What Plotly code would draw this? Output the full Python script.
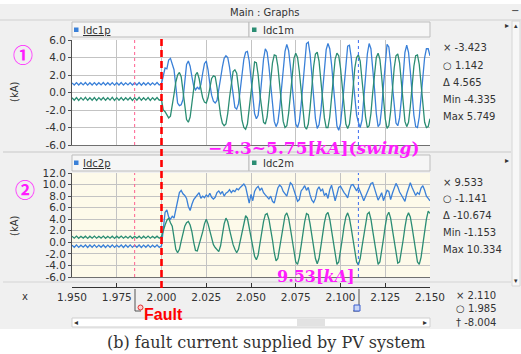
import numpy as np
import plotly.graph_objects as go

W, H = 521, 354

# ---------------- data ----------------
x_ticks = [1.950, 1.975, 2.000, 2.025, 2.050, 2.075, 2.100, 2.125, 2.150]
y1_ticks = [6.0, 4.0, 2.0, 0.0, -2.0, -4.0, -6.0]
y2_ticks = [12.0, 10.0, 8.0, 6.0, 4.0, 2.0, 0.0, -2.0, -4.0, -6.0]
fault_time = 2.000
cursor_o_time = 1.985
cursor_x_time = 2.110
pre_step = 0.00125   # sampling of the pre-fault ripple
post_step = 0.001    # sampling after the fault

idc1p_pre = [1.10, 0.86, 1.13, 0.85, 1.12, 0.87, 1.14, 0.84, 1.11, 0.86,
             1.13, 0.85, 1.12, 0.87, 1.14, 0.85, 1.11, 0.86, 1.13, 0.84,
             1.12, 0.86, 1.14, 0.85, 1.11, 0.87, 1.13, 0.85, 1.12, 0.86,
             1.14, 0.84, 1.12, 0.86, 1.13, 0.85, 1.11, 0.87, 1.14, 0.86]
idc1p_post = [1.0, 1.8, 2.8, 2.7, 3.7, 3.9, 3.1, 2.6, 0.7, -1.2,
              -1.5, -1.4, -0.8, 1.2, 3.2, 3.6, 3.0, 1.8, 0.7, 0.3,
              0.6, 0.4, 0.9, 2.2, 3.3, 3.6, 2.6, 1.0, -0.3, -1.0,
              -1.2, -0.9, 0.2, 1.6, 2.9, 3.9, 4.2, 4.0, 2.9, 1.2,
              -0.6, -1.7, -1.9, -1.3, 0.3, 2.2, 3.8, 4.6, 4.7, 3.6,
              1.8, -0.6, -2.4, -3.0, -2.6, -0.8, 1.6, 3.8, 5.0, 4.6,
              3.0, 0.8, -1.6, -3.3, -3.9, -3.4, -1.8, 0.5, 2.8, 4.7,
              5.5, 4.8, 3.0, 0.6, -2.0, -3.6, -4.0, -3.3, -1.4, 1.2,
              3.8, 5.6, 5.75, 4.4, 2.0, -0.6, -3.0, -4.1, -3.7, -2.2,
              0.2, 2.8, 4.9, 5.6, 5.0, 3.2, 0.8, -1.8, -3.8, -4.33,
              -3.6, -1.6, 1.0, 3.6, 5.3, 5.4, 4.0, 1.6, -0.8, -2.6,
              -3.42, -4.0, -3.2, -1.0, 1.8, 4.4, 5.6, 5.0, 3.0, 0.4,
              -2.4, -3.9, -3.6, -1.8, 0.8, 3.6, 5.5, 5.2, 3.4, 0.8,
              -1.8, -3.5, -3.8, -2.9, -0.8, 2.0, 4.6, 5.4, 4.6, 2.4,
              -0.2, -2.6, -3.9, -4.0, -2.8, -0.6, 2.0, 4.0, 5.0, 5.0, 4.2]

idc1m_pre = [-0.60, -0.88, -0.57, -0.90, -0.59, -0.87, -0.56, -0.89, -0.60, -0.88,
             -0.58, -0.90, -0.59, -0.86, -0.57, -0.89, -0.60, -0.87, -0.56, -0.90,
             -0.59, -0.88, -0.57, -0.89, -0.60, -0.86, -0.58, -0.90, -0.59, -0.88,
             -0.56, -0.89, -0.60, -0.87, -0.58, -0.90, -0.59, -0.86, -0.57, -0.88]
idc1m_post = [-0.8, -2.0, -2.2, -2.6, -2.9, -2.7, -1.6, -0.2, 1.2, 2.0,
              2.3, 1.8, 0.2, -1.8, -3.1, -3.4, -2.8, -1.2, 0.8, 2.0,
              2.3, 1.6, 0.4, -0.6, -1.1, -1.2, -0.6, 0.6, 1.6, 1.9,
              1.8, 0.6, -1.2, -2.6, -3.5, -3.8, -3.6, -2.4, -0.6, 1.2,
              2.4, 2.6, 2.2, 0.6, -1.6, -3.2, -4.0, -4.2, -3.6, -1.8,
              0.4, 2.4, 3.5, 3.4, 2.0, -0.2, -2.2, -3.4, -3.6, -2.8,
              -0.8, 1.6, 3.4, 4.3, 4.2, 3.0, 0.8, -1.6, -3.3, -4.0,
              -3.8, -2.4, -0.2, 2.2, 3.9, 4.5, 4.0, 2.4, 0.0, -2.4,
              -3.9, -4.2, -3.6, -1.8, 0.8, 3.0, 4.4, 4.6, 3.6, 1.6,
              -0.8, -2.9, -4.0, -4.0, -2.8, -0.6, 1.8, 3.8, 4.5, 4.2,
              2.8, 0.4, -2.0, -3.6, -4.1, -3.6, -1.8, 0.6, 2.8, 4.0,
              4.3, 3.6, 1.8, -0.6, -2.8, -4.0, -3.8, -2.4, 0.0, 2.4,
              4.0, 4.5, 3.8, 1.8, -0.8, -3.0, -4.1, -3.8, -2.2, 0.4,
              2.8, 4.2, 4.4, 3.4, 1.2, -1.4, -3.3, -3.9, -3.4, -1.6,
              0.8, 3.0, 4.2, 4.3, 3.2, 1.0, -1.6, -3.4, -4.0, -3.9, -3.0]

idc2p_pre = [-0.48, -0.86, -0.45, -0.88, -0.50, -0.84, -0.46, -0.90, -0.47, -0.86,
             -0.44, -0.87, -0.49, -0.85, -0.46, -0.89, -0.48, -0.86, -0.45, -0.88,
             -0.50, -0.84, -0.46, -0.90, -0.47, -0.86, -0.44, -0.87, -0.49, -0.85,
             -0.46, -0.89, -0.48, -0.86, -0.45, -0.88, -0.50, -0.84, -0.46, -0.87]
idc2p_post = [-0.6, 2.7, 5.2, 5.6, 4.4, 4.0, 4.5, 4.2, 5.5, 7.2,
              8.6, 9.0, 8.4, 8.1, 7.6, 6.2, 5.5, 6.6, 7.4, 7.8,
              8.3, 8.6, 7.6, 8.0, 7.7, 8.2, 7.9, 8.5, 7.8, 7.5,
              7.8, 8.6, 8.9, 8.4, 8.8, 8.0, 8.5, 8.7, 9.1, 8.6,
              9.0, 8.8, 9.3, 9.1, 9.5, 9.8, 10.1, 9.6, 8.0, 6.8,
              8.3, 7.2, 8.8, 9.4, 9.7, 9.0, 9.4, 8.6, 8.2, 7.9,
              7.5, 8.0, 7.1, 6.8, 8.4, 9.4, 9.9, 9.6, 8.8, 8.3,
              8.0, 9.2, 10.3, 10.0, 9.0, 8.4, 7.1, 7.4, 8.9, 9.3,
              9.8, 9.0, 9.5, 8.2, 7.3, 6.9, 7.6, 9.1, 9.6, 8.9,
              9.2, 8.1, 8.5, 7.6, 9.1, 9.9, 8.4, 7.2, 8.3, 9.5,
              9.7, 9.1, 8.6, 8.2, 7.7, 9.0, 9.9, 10.0, 9.4, 8.9,
              9.53, 8.6, 8.0, 7.2, 7.9, 8.8, 9.3, 10.2, 10.33, 9.2,
              8.4, 7.3, 7.9, 8.6, 7.2, 8.2, 9.0, 8.8, 7.4, 8.5,
              9.3, 10.2, 9.6, 8.7, 8.2, 7.5, 7.1, 8.4, 9.6, 10.3,
              9.5, 8.8, 8.1, 8.6, 8.3, 9.4, 9.8, 9.0, 8.0, 7.6, 7.2]

idc2m_pre = [1.05, 0.72, 1.08, 0.70, 1.04, 0.74, 1.07, 0.69, 1.06, 0.72,
             1.09, 0.71, 1.05, 0.73, 1.08, 0.70, 1.04, 0.72, 1.07, 0.69,
             1.06, 0.74, 1.08, 0.71, 1.05, 0.72, 1.09, 0.70, 1.04, 0.73,
             1.07, 0.69, 1.06, 0.72, 1.08, 0.71, 1.05, 0.74, 1.07, 0.72]
idc2m_post = [1.0, 2.2, 3.0, 3.8, 4.2, 3.4, 2.8, 0.8, -1.2, -1.8,
              -1.2, 0.2, 1.6, 2.8, 3.4, 3.6, 3.0, 1.8, 0.0, -1.4,
              -1.5, -0.4, 0.4, 1.8, 3.2, 4.0, 3.2, 1.8, 0.6, -0.4,
              -0.9, -1.2, -1.6, -0.6, 1.4, 3.2, 4.2, 3.6, 2.2, 0.8,
              -0.4, -1.2, -1.8, -1.2, 0.2, 2.0, 3.6, 4.6, 4.2, 2.6,
              0.8, -0.8, -2.4, -3.0, -2.2, -0.2, 1.8, 3.6, 4.8, 5.0,
              4.0, 2.4, 0.4, -1.8, -3.2, -2.8, -1.0, 1.2, 3.2, 4.6,
              5.1, 4.2, 2.4, 0.2, -2.0, -3.4, -3.8, -2.6, -0.6, 1.6,
              3.6, 5.0, 4.8, 3.2, 1.2, -1.0, -2.8, -3.7, -2.8, -0.8,
              1.4, 3.4, 4.8, 5.2, 4.0, 2.0, -0.2, -2.4, -3.8, -3.4,
              -1.6, 0.6, 2.8, 4.4, 5.1, 4.2, 2.4, 0.2, -2.0, -3.4,
              -3.9, -2.8, -0.8, 1.4, 3.4, 4.9, 5.2, 4.0, 2.0, -0.2,
              -2.4, -3.8, -3.4, -1.6, 0.6, 2.8, 4.6, 5.2, 4.2, 2.2,
              0.0, -2.2, -3.6, -3.4, -1.8, 0.4, 2.6, 4.4, 5.1, 4.4,
              2.6, 0.4, -1.8, -3.4, -3.8, -2.6, -0.4, 2.0, 4.0, 5.4, 5.0]

panel1_readout = ["\u00d7 -3.423", "\u25cb 1.142", "\u0394 4.565", "Min -4.335", "Max 5.749"]
panel2_readout = ["\u00d7 9.533", "\u25cb -1.141", "\u0394 -10.674", "Min -1.153", "Max 10.334"]
time_readout = ["\u00d7 2.110", "\u25cb 1.985", "\u2020 -8.004"]

# ---------------- helpers ----------------
def series(pre, post):
    t = np.concatenate([1.95 + pre_step * np.arange(len(pre)),
                        fault_time + post_step * np.arange(len(post))])
    return t, list(pre) + list(post)

def fx(x):
    return x / W

def fy(y):
    return 1 - y / H

BLUE = "#3a80d8"
GREEN = "#2b8d73"
GRID = "#c3c3c3"
TXT = "#333333"
UI = "DejaVu Sans"

fig = go.Figure()

for pre, post, color, xa, ya in [
    (idc1p_pre, idc1p_post, BLUE, "x", "y"),
    (idc1m_pre, idc1m_post, GREEN, "x", "y"),
    (idc2p_pre, idc2p_post, BLUE, "x2", "y2"),
    (idc2m_pre, idc2m_post, GREEN, "x2", "y2"),
]:
    t, v = series(pre, post)
    fig.add_trace(go.Scatter(x=t, y=v, mode="lines", xaxis=xa, yaxis=ya,
                             line=dict(color=color, width=1.3), showlegend=False,
                             hoverinfo="skip"))

# dummy trace so the separate time axis is drawn
fig.add_trace(go.Scatter(x=[None], y=[None], xaxis="x3", yaxis="y2", showlegend=False))

xdom = [fx(72), fx(430)]
xcommon = dict(range=[1.95, 2.15], tickvals=x_ticks, showticklabels=False, ticks="",
               showgrid=True, gridcolor=GRID, gridwidth=1, zeroline=False, automargin=False,
               showline=True, linecolor="#707070", linewidth=1, fixedrange=True)
ycommon = dict(showgrid=True, gridcolor=GRID, gridwidth=1, zeroline=False, automargin=False,
               showline=True, linecolor="#505050", linewidth=1, ticks="outside",
               ticklen=3, tickcolor="#505050", fixedrange=True,
               tickfont=dict(family=UI, size=10.5, color=TXT))

fig.update_layout(
    width=W, height=H, autosize=False,
    margin=dict(l=0, r=0, t=0, b=0, pad=0, autoexpand=False),
    paper_bgcolor="#f0f0f0", plot_bgcolor="#ffffff",
    showlegend=False,
    xaxis=dict(domain=xdom, anchor="y", **xcommon),
    yaxis=dict(domain=[fy(145), fy(40)], anchor="x", range=[-6, 6], tickvals=y1_ticks,
               ticktext=[f"{v:.1f}" for v in y1_ticks], **ycommon),
    xaxis2=dict(domain=xdom, anchor="y2", **xcommon),
    yaxis2=dict(domain=[fy(277), fy(173)], anchor="x2", range=[-6, 12], tickvals=y2_ticks,
                ticktext=[f"{v:.1f}" for v in y2_ticks], **ycommon),
    xaxis3=dict(overlaying="x2", anchor="free", position=fy(287), range=[1.95, 2.15],
                tickvals=x_ticks, ticktext=[f"{v:.3f}" for v in x_ticks], automargin=False,
                ticks="inside", ticklen=4, tickcolor="#333333", showgrid=False,
                zeroline=False, showline=True, linecolor="#333333", linewidth=1,
                tickfont=dict(family=UI, size=10.5, color=TXT), fixedrange=True),
)

shapes = []

def rect(x0, y0, x1, y1, fill, line=None, lw=1, layer="below"):
    shapes.append(dict(type="rect", xref="paper", yref="paper", x0=fx(x0), x1=fx(x1),
                       y0=fy(y1), y1=fy(y0), fillcolor=fill, layer=layer,
                       line=dict(color=line if line else fill, width=lw if line else 0)))

def seg(x0, y0, x1, y1, color, width=1, dash="solid", layer="above"):
    shapes.append(dict(type="line", xref="paper", yref="paper", x0=fx(x0), x1=fx(x1),
                       y0=fy(y0), y1=fy(y1), layer=layer,
                       line=dict(color=color, width=width, dash=dash)))

# window chrome
rect(0, 0, 521, 4, "#ffffff")
seg(0, 20, 521, 20, "#d0d0d0", layer="below")
seg(3, 152, 511, 152, "#c8c8c8", layer="below")
seg(3, 282, 511, 282, "#d4d4d4", layer="below")
rect(0, 329, 521, 354, "#ffffff")
# right scrollbar
rect(512, 21, 520, 286, "#f7f7f7", line="#d6d6d6")
# bottom scrollbar
rect(72, 318, 430, 327, "#ffffff", line="#cfcfcf")
rect(297, 319, 325, 326, "#e2e2e2")
# cream background of the second graph
shapes.append(dict(type="rect", xref="x2 domain", yref="y2 domain", x0=0, x1=1, y0=0, y1=1,
                   fillcolor="#fdfaea", line=dict(width=0), layer="below"))
# legend tabs
for top, bot in [(22, 37), (155, 171)]:
    rect(72, top, 249, bot, "#f6f6f6", line="#bdbdbd")
    rect(249, top, 430, bot, "#f6f6f6", line="#bdbdbd")
for yc, c1, c2 in [(30, BLUE, GREEN), (163, BLUE, GREEN)]:
    rect(74, yc - 2.5, 78.5, yc + 2, c1, layer="above")
    rect(252, yc - 2.5, 256.5, yc + 2, c2, layer="above")

# cursor lines inside each graph
for xa, ya in [("x", "y domain"), ("x2", "y2 domain")]:
    shapes.append(dict(type="line", xref=xa, yref=ya, x0=cursor_o_time, x1=cursor_o_time,
                       y0=0, y1=1, line=dict(color="#ff5f8f", width=1, dash="dot")))
    shapes.append(dict(type="line", xref=xa, yref=ya, x0=cursor_x_time, x1=cursor_x_time,
                       y0=0, y1=1, line=dict(color="#3b6cf0", width=1, dash="dot")))
# fault line across both graphs
shapes.append(dict(type="line", xref="x", yref="paper", x0=fault_time, x1=fault_time,
                   y0=fy(288), y1=fy(38), line=dict(color="#ff0000", width=2.6, dash="7px,4px")))
# cursor handles on the time axis
seg(135, 289, 135, 311, "#555555")
seg(135, 311, 141, 311, "#555555")
seg(359, 289, 359, 311, "#555555")
seg(353, 311, 359, 311, "#555555")
rect(354, 305, 360, 311, "#c9d6f5", line="#3b5fd0", layer="above")
shapes.append(dict(type="circle", xref="paper", yref="paper", x0=fx(138), x1=fx(143),
                   y0=fy(310), y1=fy(305), fillcolor="#ffd0d0", line=dict(color="#e03030", width=1)))

fig.update_layout(shapes=shapes)

def text(s, x, y, size=10, color=TXT, family=UI, xanchor="left", yanchor="middle", angle=0):
    fig.add_annotation(text=s, x=fx(x), y=fy(y), xref="paper", yref="paper", showarrow=False,
                       xanchor=xanchor, yanchor=yanchor, textangle=angle,
                       font=dict(size=size, color=color, family=family), borderpad=0)

text("Main : Graphs", 264, 12, size=10, xanchor="center")
text("\u2212", 515, 11, size=10, xanchor="center")
text("\u25b8", 507, 26, size=8, xanchor="center")
text("\u25b8", 507, 160, size=8, xanchor="center")
text("\u25b4", 516, 26, size=7, xanchor="center")
text("\u25be", 516, 281, size=7, xanchor="center")
text("<u>Idc1p</u>", 82, 30, size=10)
text("Idc1m", 262, 30, size=10)
text("<u>Idc2p</u>", 82, 163, size=10)
text("Idc2m", 262, 163, size=10)
text("(kA)", 14, 92, size=10, xanchor="center", angle=-90)
text("(kA)", 14, 226, size=10, xanchor="center", angle=-90)
text("x", 25, 296, size=10, xanchor="center")
for i, s in enumerate(panel1_readout):
    text(s, 442, 48 + i * 17.2, size=10)
for i, s in enumerate(panel2_readout):
    text(s, 442, 182 + i * 16.8, size=10)
for i, s in enumerate(time_readout):
    text(s, 455, 295 + i * 13.5, size=10)
text("\u25c2", 76, 322, size=8, xanchor="center")
text("\u25b8", 425, 322, size=8, xanchor="center")

MAG = "#ff1cff"
text("<b>\u2460</b>", 23, 55, size=20, color=MAG, family="Noto Sans CJK KR", xanchor="center")
text("<b>\u2461</b>", 25, 189, size=20, color=MAG, family="Noto Sans CJK KR", xanchor="center")
text("<b>\u22124.3~5.75[<i>kA</i>](<i>swing</i>)</b>", 207, 148, size=17, color=MAG,
     family="DejaVu Serif")
text("<b>9.53[<i>kA</i>]</b>", 276, 276, size=16, color=MAG, family="DejaVu Serif")
text("<b>Fault</b>", 143, 314, size=16, color="#ff0000", family="Liberation Sans")
text("(b) fault current supplied by PV system", 266, 342, size=16, color="#333333",
     family="DejaVu Serif", xanchor="center")

fig.write_html("out.html", config={"displayModeBar": False, "staticPlot": True},
               post_script="document.body.style.margin='0';document.body.style.overflow='hidden';")
